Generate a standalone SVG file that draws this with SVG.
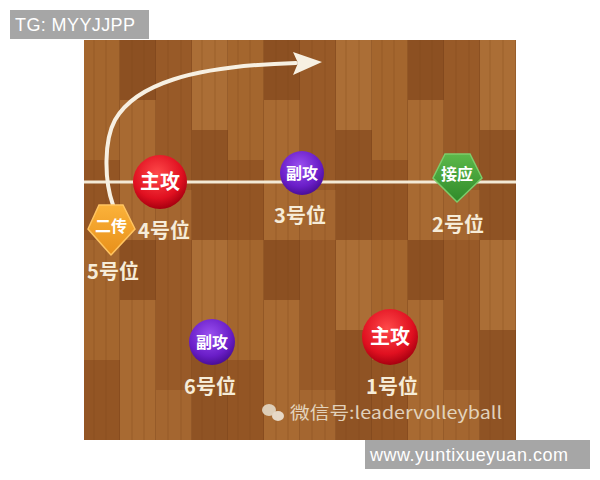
<svg xmlns="http://www.w3.org/2000/svg" width="600" height="480" viewBox="0 0 600 480">
<style>
.lbl{font-family:"Noto Sans CJK SC","Noto Sans",sans-serif;font-weight:bold;font-size:20px;fill:#f6ecd8;text-anchor:middle}
.nt{font-family:"Noto Sans CJK SC","Noto Sans",sans-serif;font-weight:bold;font-size:20px;fill:#ffffff;text-anchor:middle}
.ns{font-size:16px}
.box{fill:#a6a6a6}
.bt{font-family:"Liberation Sans",Arial,sans-serif;font-size:18px;fill:#ffffff}
.grain{stroke:#7a4218;stroke-width:1;opacity:0.35;fill:none}
</style>
<defs>
<pattern id="wood" x="84" y="40" width="144" height="200" patternUnits="userSpaceOnUse">
<rect width="144" height="200" fill="#9c5c28"/>
<rect x="0" y="0" width="36" height="120" fill="#a4662e"/>
<rect x="0" y="120" width="36" height="80" fill="#935524"/>
<rect x="36" y="0" width="36" height="60" fill="#8c5022"/>
<rect x="36" y="60" width="36" height="140" fill="#a86a32"/>
<rect x="72" y="0" width="36" height="150" fill="#985a28"/>
<rect x="72" y="150" width="36" height="50" fill="#a46630"/>
<rect x="108" y="0" width="36" height="90" fill="#ab6e36"/>
<rect x="108" y="90" width="36" height="110" fill="#8f5324"/>
<path class="grain" d="M10,0 V200 M22,0 V200 M48,0 V200 M60,0 V200 M84,0 V200 M97,0 V200 M118,0 V200 M131,0 V200"/>
<rect x="35" y="0" width="1" height="200" fill="#6e3a14" opacity="0.3"/>
<rect x="71" y="0" width="1" height="200" fill="#6e3a14" opacity="0.3"/>
<rect x="107" y="0" width="1" height="200" fill="#6e3a14" opacity="0.3"/>
<rect x="143" y="0" width="1" height="200" fill="#6e3a14" opacity="0.3"/>
</pattern>
<radialGradient id="red" cx="0.45" cy="0.35" r="0.65">
<stop offset="0" stop-color="#ff4a4a"/>
<stop offset="0.7" stop-color="#e01020"/>
<stop offset="1" stop-color="#a80010"/>
</radialGradient>
<radialGradient id="pur" cx="0.45" cy="0.35" r="0.65">
<stop offset="0" stop-color="#9a50f0"/>
<stop offset="0.7" stop-color="#6a1ec8"/>
<stop offset="1" stop-color="#4a0e98"/>
</radialGradient>
<linearGradient id="grn" x1="0" y1="0" x2="0" y2="1">
<stop offset="0" stop-color="#5cb84a"/>
<stop offset="1" stop-color="#2f8a2a"/>
</linearGradient>
<linearGradient id="org" x1="0" y1="0" x2="0" y2="1">
<stop offset="0" stop-color="#fbb23a"/>
<stop offset="1" stop-color="#e8901a"/>
</linearGradient>
</defs>
<rect width="600" height="480" fill="#ffffff"/>
<rect x="84" y="40" width="432" height="400" fill="url(#wood)"/>
<rect x="84" y="180.5" width="432" height="3" fill="#f3ead6"/>

<g id="connectors">
<path d="M113,205 C104,180 104,140 115,120 C135,85 190,66 296,63" fill="none" stroke="#f7f0e2" stroke-width="4" stroke-linecap="round"/>
<polygon points="293,52 322,62 293,75 298,63" fill="#f7f0e2"/>
</g>

<g id="n4">
<circle cx="160" cy="182" r="27" fill="url(#red)"/>
<text class="nt" x="160" y="189">主攻</text>
<text class="lbl" x="164" y="238">4号位</text>
</g>
<g id="n3">
<circle cx="302" cy="173" r="22" fill="url(#pur)"/>
<text class="nt ns" x="302" y="179">副攻</text>
<text class="lbl" x="300" y="223">3号位</text>
</g>
<g id="n2">
<polygon points="445,154 470,154 482,178 457,202 433,178" fill="url(#grn)" stroke="#7ccc6a" stroke-width="1.5"/>
<text class="nt ns" x="457" y="180">接应</text>
<text class="lbl" x="458" y="232">2号位</text>
</g>
<g id="n5">
<polygon points="99,205 123,205 135,229 111,255 88,229" fill="url(#org)" stroke="#ffc460" stroke-width="1.5"/>
<text class="nt ns" x="111" y="232">二传</text>
<text class="lbl" x="113" y="279">5号位</text>
</g>
<g id="n6">
<circle cx="212" cy="342" r="23" fill="url(#pur)"/>
<text class="nt ns" x="212" y="348">副攻</text>
<text class="lbl" x="210" y="394">6号位</text>
</g>
<g id="n1">
<circle cx="390" cy="337" r="28" fill="url(#red)"/>
<text class="nt" x="390" y="344">主攻</text>
<text class="lbl" x="392" y="394">1号位</text>
</g>

<g id="watermark" opacity="0.85">
<ellipse cx="269" cy="410" rx="7" ry="6" fill="#e8e0d0"/>
<ellipse cx="278" cy="416" rx="6" ry="5" fill="#f2ece0"/>
<text x="290" y="419" textLength="212" lengthAdjust="spacingAndGlyphs" style="font-family:'Noto Sans CJK SC','Noto Sans',sans-serif;font-size:17px;fill:#efe6d6">微信号:leadervolleyball</text>
</g>

<g id="tg">
<rect class="box" x="10" y="10" width="139" height="29"/>
<text class="bt" x="15" y="31" textLength="120">TG: MYYJJPP</text>
</g>
<g id="site">
<rect class="box" x="365" y="440" width="225" height="29"/>
<text class="bt" x="370" y="461" textLength="198">www.yuntixueyuan.com</text>
</g>
</svg>
